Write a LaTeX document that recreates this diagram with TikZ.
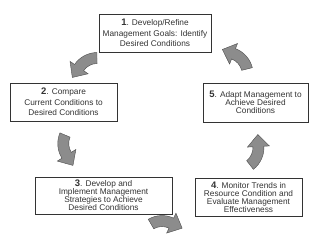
\documentclass[tikz,border=0pt]{standalone}
\usepackage{fontspec}
\setmainfont{Liberation Sans}
\usetikzlibrary{shadows}

\newcommand{\stepnum}[1]{{\fontsize{9.5}{9.5}\selectfont\bfseries #1}.}

\begin{document}
\begin{tikzpicture}[x=1pt,y=1pt,
    stagebox/.style={draw=black!80, line width=0.8pt, fill=white, align=center,
      inner sep=0pt, text=black!80, font=\fontsize{8.3}{10.4}\selectfont,
      drop shadow={shadow xshift=0.6pt, shadow yshift=-0.6pt, fill=black!70, opacity=1}},
    tightbox/.style={stagebox, font=\fontsize{8.3}{7.9}\selectfont},
    turnarrow/.pic={
      \filldraw[fill=black!45, draw=black!70, line width=0.4pt]
        (0,-5.5) arc[start angle=-90, end angle=-35, radius=27.5]
        -- (27.03,3.07) -- (24.9,19.2) -- (9.01,15.69) -- (13.52,12.54)
        arc[start angle=-35, end angle=-90, radius=16.5] -- cycle;
    }]
  \useasboundingbox (0,0) rectangle (320,239);

  % stages
  \node[stagebox, minimum width=112, minimum height=38] (s1) at (155,206)
    {\stepnum{1} Develop/Refine\\Management Goals: Identify\\Desired Conditions};
  \node[stagebox, minimum width=107, minimum height=38] (s2) at (63.5,137)
    {\stepnum{2} Compare\\Current Conditions to\\Desired Conditions};
  \node[tightbox, minimum width=137, minimum height=37] (s3) at (103.5,43.5)
    {\stepnum{3} Develop and\\Implement Management\\Strategies to Achieve\\Desired Conditions};
  \node[tightbox, minimum width=107, minimum height=38] (s4) at (248.5,42)
    {\stepnum{4} Monitor Trends in\\Resource Condition and\\Evaluate Management\\Effectiveness};
  \node[tightbox, minimum width=105, minimum height=39] (s5) at (255.5,136.5)
    {\stepnum{5} Adapt Management to\\Achieve Desired\\Conditions};

  % bent arrows between stages
  \pic[rotate=180.6] at (97,181) {turnarrow};
  \pic[rotate=247] at (65,104) {turnarrow};
  \pic[rotate=30, yscale=-1] at (151,15) {turnarrow};
  \pic[rotate=38] at (250,74) {turnarrow};
  \pic[rotate=104] at (247,170) {turnarrow};
\end{tikzpicture}
\end{document}
